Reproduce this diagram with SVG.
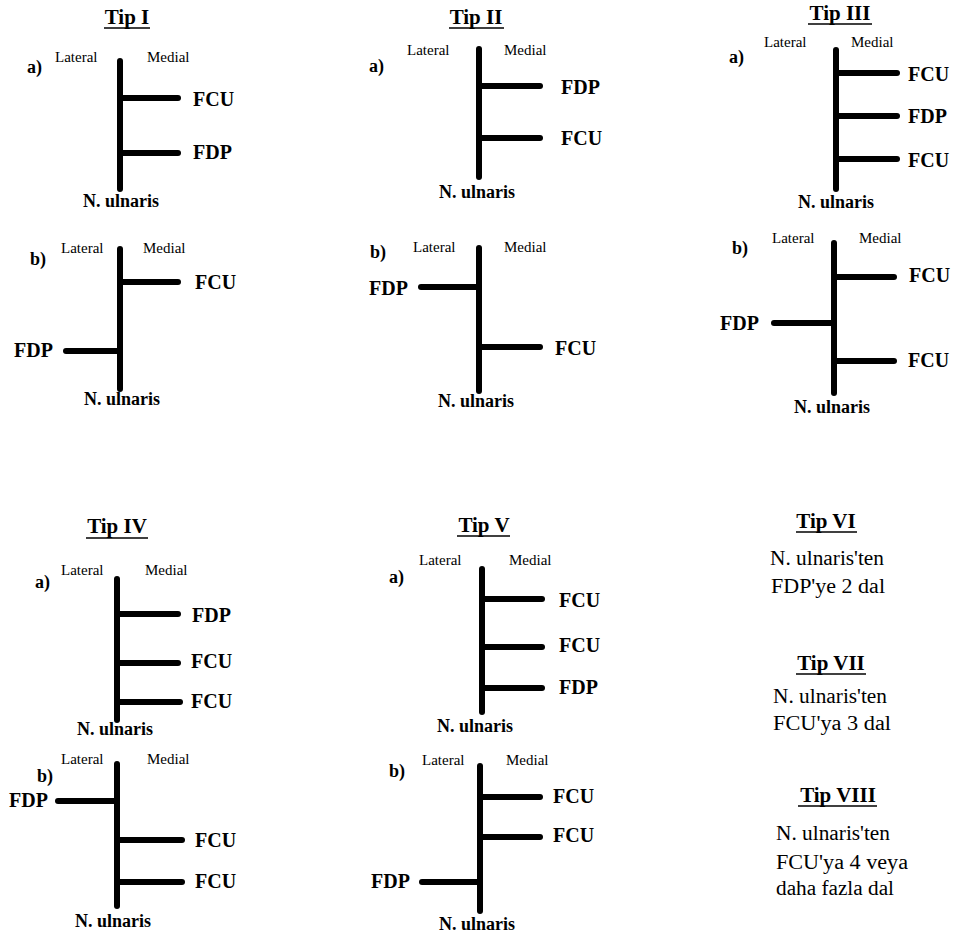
<svg xmlns="http://www.w3.org/2000/svg" width="960" height="940" viewBox="0 0 960 940">
<style>
text{font-family:"Liberation Serif","DejaVu Serif",serif;fill:#000}
.t{font-size:21px;font-weight:bold;text-anchor:middle}
.ul{stroke:#000;stroke-width:1.6}
.s{font-size:15px}
.ab{font-size:18px;font-weight:bold}
.m{font-size:20px;font-weight:bold}
.me{font-size:20px;font-weight:bold;text-anchor:end}
.n{font-size:18px;font-weight:bold;text-anchor:middle}
.d{font-size:20px}
.dc{font-size:20px;text-anchor:middle}
.nerve line{stroke:#000;stroke-width:6;stroke-linecap:round}
</style>
<rect width="960" height="940" fill="#fff"/>

<g id="titles">
<text class="t" x="127" y="24">Tip I</text><line class="ul" x1="104" y1="28" x2="150" y2="28"/>
<text class="t" x="476" y="24">Tip II</text><line class="ul" x1="449" y1="28" x2="504" y2="28"/>
<text class="t" x="840" y="20">Tip III</text><line class="ul" x1="808" y1="24" x2="872" y2="24"/>
<text class="t" x="117" y="533">Tip IV</text><line class="ul" x1="86" y1="538" x2="148" y2="538"/>
<text class="t" x="484" y="532">Tip V</text><line class="ul" x1="457" y1="536" x2="510" y2="536"/>
</g>

<g id="tip1a">
<text class="ab" x="27" y="73">a)</text>
<text class="s" x="55" y="62">Lateral</text><text class="s" x="147" y="62">Medial</text>
<g class="nerve"><line x1="120" y1="61" x2="120" y2="189"/><line x1="120" y1="98" x2="178" y2="98"/><line x1="120" y1="153" x2="178" y2="153"/></g>
<text class="m" x="193" y="106">FCU</text><text class="m" x="193" y="159">FDP</text>
<text class="n" x="121" y="207">N. ulnaris</text>
</g>

<g id="tip1b">
<text class="ab" x="30" y="265">b)</text>
<text class="s" x="61" y="253">Lateral</text><text class="s" x="143" y="253">Medial</text>
<g class="nerve"><line x1="120" y1="249" x2="120" y2="389"/><line x1="120" y1="282" x2="178" y2="282"/><line x1="66" y1="351" x2="120" y2="351"/></g>
<text class="m" x="195" y="289">FCU</text><text class="me" x="53" y="357">FDP</text>
<text class="n" x="122" y="405">N. ulnaris</text>
</g>

<g id="tip2a">
<text class="ab" x="369" y="72">a)</text>
<text class="s" x="407" y="55">Lateral</text><text class="s" x="504" y="55">Medial</text>
<g class="nerve"><line x1="479" y1="49" x2="479" y2="177"/><line x1="479" y1="86" x2="540" y2="86"/><line x1="479" y1="138" x2="540" y2="138"/></g>
<text class="m" x="561" y="94">FDP</text><text class="m" x="561" y="145">FCU</text>
<text class="n" x="477" y="198">N. ulnaris</text>
</g>

<g id="tip2b">
<text class="ab" x="370" y="258">b)</text>
<text class="s" x="413" y="252">Lateral</text><text class="s" x="504" y="252">Medial</text>
<g class="nerve"><line x1="479" y1="248" x2="479" y2="391"/><line x1="421" y1="287" x2="479" y2="287"/><line x1="479" y1="347" x2="540" y2="347"/></g>
<text class="me" x="408" y="295">FDP</text><text class="m" x="555" y="355">FCU</text>
<text class="n" x="476" y="407">N. ulnaris</text>
</g>

<g id="tip3a">
<text class="ab" x="729" y="63">a)</text>
<text class="s" x="764" y="47">Lateral</text><text class="s" x="851" y="47">Medial</text>
<g class="nerve"><line x1="836" y1="50" x2="836" y2="189"/><line x1="836" y1="73" x2="897" y2="73"/><line x1="836" y1="116" x2="897" y2="116"/><line x1="836" y1="159" x2="897" y2="159"/></g>
<text class="m" x="908" y="81">FCU</text><text class="m" x="908" y="123">FDP</text><text class="m" x="908" y="167">FCU</text>
<text class="n" x="836" y="208">N. ulnaris</text>
</g>

<g id="tip3b">
<text class="ab" x="732" y="254">b)</text>
<text class="s" x="772" y="243">Lateral</text><text class="s" x="859" y="243">Medial</text>
<g class="nerve"><line x1="834" y1="243" x2="834" y2="393"/><line x1="834" y1="277" x2="894" y2="277"/><line x1="774" y1="323" x2="834" y2="323"/><line x1="834" y1="361" x2="894" y2="361"/></g>
<text class="m" x="909" y="282">FCU</text><text class="me" x="759" y="330">FDP</text><text class="m" x="908" y="367">FCU</text>
<text class="n" x="832" y="413">N. ulnaris</text>
</g>

<g id="tip4a">
<text class="ab" x="35" y="588">a)</text>
<text class="s" x="61" y="575">Lateral</text><text class="s" x="145" y="575">Medial</text>
<g class="nerve"><line x1="117" y1="579" x2="117" y2="720"/><line x1="117" y1="614" x2="178" y2="614"/><line x1="117" y1="663" x2="178" y2="663"/><line x1="117" y1="702" x2="180" y2="702"/></g>
<text class="m" x="192" y="622">FDP</text><text class="m" x="191" y="668">FCU</text><text class="m" x="191" y="708">FCU</text>
<text class="n" x="115" y="735">N. ulnaris</text>
</g>

<g id="tip4b">
<text class="ab" x="37" y="782">b)</text>
<text class="s" x="61" y="764">Lateral</text><text class="s" x="147" y="764">Medial</text>
<g class="nerve"><line x1="117" y1="764" x2="117" y2="906"/><line x1="58" y1="801" x2="117" y2="801"/><line x1="117" y1="840" x2="182" y2="840"/><line x1="117" y1="882" x2="182" y2="882"/></g>
<text class="me" x="48" y="807">FDP</text><text class="m" x="195" y="847">FCU</text><text class="m" x="195" y="888">FCU</text>
<text class="n" x="113" y="927">N. ulnaris</text>
</g>

<g id="tip5a">
<text class="ab" x="389" y="583">a)</text>
<text class="s" x="419" y="565">Lateral</text><text class="s" x="509" y="565">Medial</text>
<g class="nerve"><line x1="482" y1="569" x2="482" y2="712"/><line x1="482" y1="599" x2="542" y2="599"/><line x1="482" y1="647" x2="542" y2="647"/><line x1="482" y1="688" x2="542" y2="688"/></g>
<text class="m" x="559" y="607">FCU</text><text class="m" x="559" y="652">FCU</text><text class="m" x="559" y="694">FDP</text>
<text class="n" x="475" y="732">N. ulnaris</text>
</g>

<g id="tip5b">
<text class="ab" x="389" y="777">b)</text>
<text class="s" x="422" y="765">Lateral</text><text class="s" x="506" y="765">Medial</text>
<g class="nerve"><line x1="480" y1="766" x2="480" y2="911"/><line x1="480" y1="797" x2="540" y2="797"/><line x1="480" y1="837" x2="540" y2="837"/><line x1="422" y1="882" x2="480" y2="882"/></g>
<text class="m" x="553" y="803">FCU</text><text class="m" x="553" y="842">FCU</text><text class="me" x="410" y="888">FDP</text>
<text class="n" x="477" y="930">N. ulnaris</text>
</g>

<g id="tip6">
<text class="t" x="826" y="528">Tip VI</text><line class="ul" x1="796" y1="532" x2="857" y2="532"/>
<text class="dc" x="827" y="565" textLength="114" lengthAdjust="spacingAndGlyphs">N. ulnaris'ten</text>
<text class="dc" x="828" y="593" textLength="114" lengthAdjust="spacingAndGlyphs">FDP'ye 2 dal</text>
</g>

<g id="tip7">
<text class="t" x="831" y="670">Tip VII</text><line class="ul" x1="796" y1="674" x2="866" y2="674"/>
<text class="dc" x="830" y="703" textLength="114" lengthAdjust="spacingAndGlyphs">N. ulnaris'ten</text>
<text class="dc" x="832" y="730" textLength="118" lengthAdjust="spacingAndGlyphs">FCU'ya 3 dal</text>
</g>

<g id="tip8">
<text class="t" x="838" y="802">Tip VIII</text><line class="ul" x1="798" y1="806" x2="877" y2="806"/>
<text class="d" x="776" y="840" textLength="114" lengthAdjust="spacingAndGlyphs">N. ulnaris'ten</text>
<text class="d" x="776" y="869" textLength="132" lengthAdjust="spacingAndGlyphs">FCU'ya 4 veya</text>
<text class="d" x="776" y="895" textLength="118" lengthAdjust="spacingAndGlyphs">daha fazla dal</text>
</g>
</svg>
